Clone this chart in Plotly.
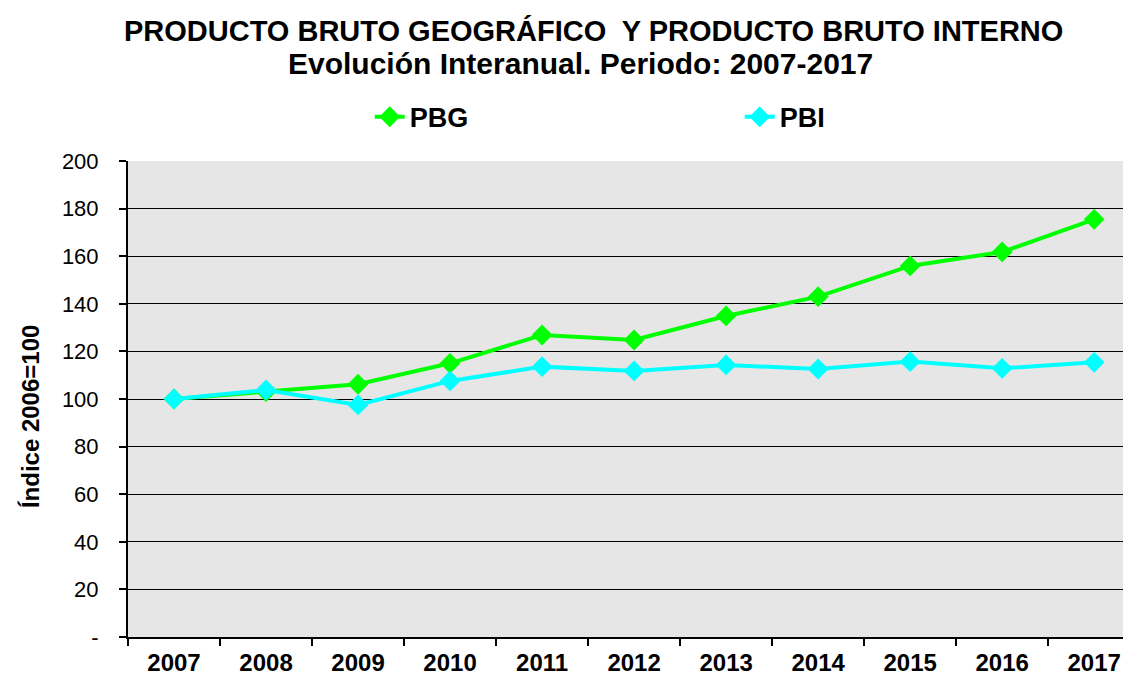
import plotly.graph_objects as go

years = ['2007', '2008', '2009', '2010', '2011', '2012', '2013', '2014', '2015', '2016', '2017']
pbg = [100, 103.1, 106.2, 115.0, 126.9, 124.8, 134.9, 143.0, 155.9, 161.8, 175.5]
pbi = [100, 103.8, 97.5, 107.6, 113.6, 111.8, 114.3, 112.6, 115.7, 112.9, 115.4]
y_ticks = [0, 20, 40, 60, 80, 100, 120, 140, 160, 180, 200]
y_labels = ['-', '20', '40', '60', '80', '100', '120', '140', '160', '180', '200']

font = 'Liberation Sans, Arial, sans-serif'

fig = go.Figure()
fig.add_trace(go.Scatter(x=years, y=pbg, name='PBG', mode='lines+markers',
                         line=dict(color='#00ff00', width=4),
                         marker=dict(symbol='diamond', size=16, color='#00ff00')))
fig.add_trace(go.Scatter(x=years, y=pbi, name='PBI', mode='lines+markers',
                         line=dict(color='#00ffff', width=4),
                         marker=dict(symbol='diamond', size=16, color='#00ffff')))

# page body has an 8px margin, so the figure is a bit smaller and shifted
fig.update_layout(
    width=1123, height=669,
    margin=dict(l=120, r=0, t=153, b=40),
    paper_bgcolor='white', plot_bgcolor='#e6e6e6',
    font=dict(family=font, color='black'),
    legend=dict(orientation='h', x=0.241, xanchor='left', y=1.092, yanchor='middle',
                font=dict(size=27, family=font, weight='bold'),
                entrywidth=325, entrywidthmode='pixels', bgcolor='rgba(0,0,0,0)'),
    showlegend=True,
)

# titles
fig.add_annotation(text='<b>PRODUCTO BRUTO GEOGRÁFICO  Y PRODUCTO BRUTO INTERNO</b>',
                   xref='paper', yref='paper', x=0.4646, y=1.275, xanchor='center', yanchor='middle',
                   showarrow=False, height=30, font=dict(size=29, family=font))
fig.add_annotation(text='<b>Evolución Interanual. Periodo: 2007-2017</b>',
                   xref='paper', yref='paper', x=0.4516, y=1.206, xanchor='center', yanchor='middle',
                   showarrow=False, height=30, font=dict(size=30, family=font))
fig.add_annotation(text='<b>Índice 2006=100</b>', textangle=-90,
                   xref='paper', yref='paper', x=-0.0977, y=0.462, xanchor='center', yanchor='middle',
                   showarrow=False, font=dict(size=24, family=font))

fig.update_xaxes(type='category', range=[-0.5, 10.4], showline=True, linecolor='black', linewidth=2,
                 ticks='outside', tickson='boundaries', ticklen=7, tickwidth=2, tickcolor='black',
                 showgrid=False, automargin=False, ticklabelstandoff=3,
                 tickfont=dict(size=24, family=font, weight='bold'))
fig.update_yaxes(range=[0, 200], tickvals=y_ticks, ticktext=y_labels, showline=True,
                 linecolor='black', linewidth=2, ticks='outside', ticklen=7, tickwidth=2,
                 tickcolor='black', showgrid=True, gridcolor='black', gridwidth=1,
                 automargin=False, ticklabelstandoff=16,
                 tickfont=dict(size=22, family=font), zeroline=False)

fig.write_html('out.html')
